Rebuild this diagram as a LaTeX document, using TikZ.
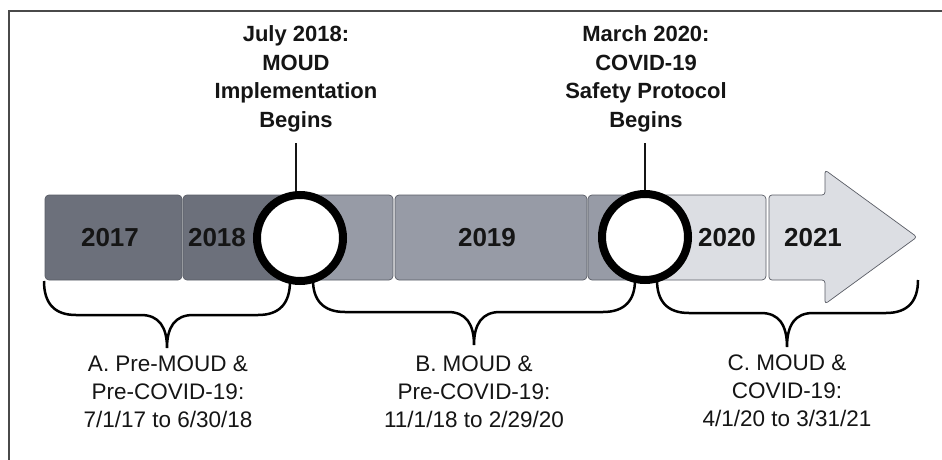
\documentclass[tikz,border=0pt]{standalone}
\usepackage{fontspec}
\setmainfont{Liberation Sans}
\definecolor{segdark}{HTML}{6C707B}
\definecolor{segmid}{HTML}{979BA6}
\definecolor{seglight}{HTML}{DCDEE3}
\definecolor{segline}{HTML}{5A5D66}
\definecolor{txt}{HTML}{151515}
\definecolor{framecol}{HTML}{4A4A4A}
\newcommand\timebrace[6]{%
  \draw[bracepath] (#1,#4) .. controls (#1,#5-12) and (#1+10,#5) .. (#1+32,#5)
    -- (#3-26,#5) .. controls (#3-8,#5) and (#3,#5+12) .. (#3,#6)
    .. controls (#3,#5+12) and (#3+8,#5) .. (#3+26,#5)
    -- (#2-32,#5) .. controls (#2-10,#5) and (#2,#5-12) .. (#2,#4);}
\begin{document}
\begin{tikzpicture}[x=1pt,y=-1pt,
  seg/.style={draw=segline, line width=0.7pt, rounded corners=4pt, minimum height=85pt, inner sep=0pt, outer sep=0pt, anchor=north west},
  dark/.style={seg, fill=segdark},
  mid/.style={seg, fill=segmid},
  light/.style={seg, fill=seglight},
  yr/.style={font=\fontsize{26}{30}\selectfont\bfseries, text=txt},
  event/.style={font=\fontsize{22}{28.5}\selectfont\bfseries, align=center, text=txt},
  period/.style={font=\fontsize{22.5}{28}\selectfont, align=center, text=txt},
  milestone/.style={circle, draw=black, line width=8pt, fill=white, minimum size=86pt, inner sep=0pt},
  bracepath/.style={draw=black, line width=2.5pt},
  tick/.style={draw=txt, line width=2.5pt},
  framestyle/.style={draw=framecol, line width=2pt}
]
\useasboundingbox (0,0) rectangle (942,460);
\fill[white] (0,0) rectangle (942,460);
% frame
\draw[framestyle] (9,461) -- (9,11) -- (943,11);

% segments
\node[dark, minimum width=137pt] (b17) at (45,195) {};
\node[dark, minimum width=120pt] (b18) at (183,195) {};
\node[mid, minimum width=90pt] (b18b) at (303,195) {};
\node[mid, minimum width=192pt] (b19) at (395,195) {};
\node[mid, minimum width=60pt] (b20a) at (588,195) {};
\node[light, minimum width=119pt] (b20) at (647,195) {};
\draw[draw=segline, line width=0.7pt, fill=seglight, rounded corners=3pt]
  (769,195) -- (825,195) -- (825,170) -- (917,237) -- (825,304) -- (825,280) -- (769,280) -- cycle;

% years
\node[yr] (y17) at (110,238) {2017};
\node[yr] (y18) at (217,238) {2018};
\node[yr] (y19) at (487,238) {2019};
\node[yr] (y20) at (727,238) {2020};
\node[yr] (y21) at (813,238) {2021};

% milestones
\node[milestone] (m1) at (300,238) {};
\node[milestone] (m2) at (645,237) {};

% event labels
\node[event] (e1) at (296,79) {July 2018:\\MOUD\\Implementation\\Begins};
\node[event] (e2) at (646,79) {March 2020:\\COVID-19\\Safety Protocol\\Begins};
\coordinate (t1) at (296,143);
\coordinate (t2) at (645,143);
\draw[tick] (t1) -- (t1 |- m1.north);
\draw[tick] (t2) -- (t2 |- m2.north);

% braces
\timebrace{44}{290}{167}{281}{315}{348}
\timebrace{313}{635}{474}{280}{312}{345}
\timebrace{657}{918}{787}{280}{313}{347}

% period labels
\node[period] (pa) at (168,392) {A. Pre-MOUD \&\\Pre-COVID-19:\\7/1/17 to 6/30/18};
\node[period] (pb) at (474,392) {B. MOUD \&\\Pre-COVID-19:\\11/1/18 to 2/29/20};
\node[period] (pc) at (787,391) {C. MOUD \&\\COVID-19:\\4/1/20 to 3/31/21};
\end{tikzpicture}
\end{document}
